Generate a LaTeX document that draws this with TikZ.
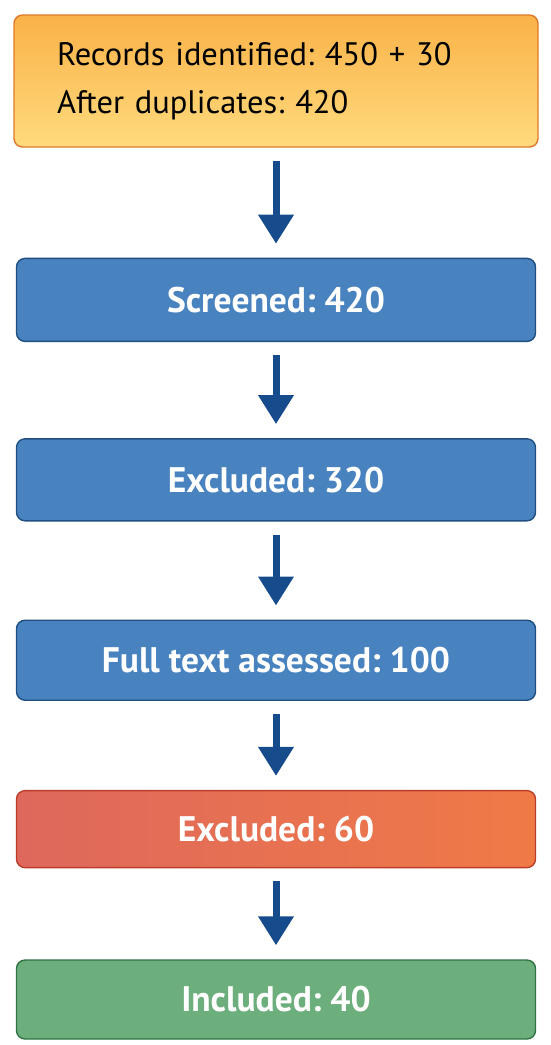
\documentclass[tikz,border=0pt]{standalone}
\usepackage{fontspec}
\setmainfont{PT Sans}
\usepackage{tikz}
\usetikzlibrary{
  arrows.meta,
  positioning
}
\frenchspacing
\definecolor{RecordTop}{RGB}{250,178,72}
\definecolor{RecordBottom}{RGB}{255,218,125}
\definecolor{RecordEdge}{RGB}{222,122,40}
\definecolor{StepBlue}{RGB}{72,131,192}
\definecolor{StepEdge}{RGB}{32,78,128}
\definecolor{DropLeft}{RGB}{222,104,92}
\definecolor{DropRight}{RGB}{240,122,70}
\definecolor{DropEdge}{RGB}{188,62,42}
\definecolor{KeepGreen}{RGB}{108,174,124}
\definecolor{KeepEdge}{RGB}{48,116,70}
\definecolor{FlowBlue}{RGB}{22,76,140}
\tikzset{
  recordbox/.style={draw=RecordEdge,top color=RecordTop,bottom color=RecordBottom,line width=1.4pt,rounded corners=3mm,minimum height=132pt,minimum width=524pt,inner xsep=0pt,align=left,text width=438pt,font=\fontsize{32.5}{48}\selectfont},
  stagebox/.style={draw=StepEdge,fill=StepBlue,line width=1.4pt,rounded corners=3mm,minimum width=519pt,align=center,text=white,font=\fontsize{35.5}{42}\selectfont\bfseries},
  dropbox/.style={stagebox,draw=DropEdge,left color=DropLeft,right color=DropRight},
  keepbox/.style={stagebox,draw=KeepEdge,fill=KeepGreen},
  flow/.style={-{Triangle[length=29pt,width=34pt]},line width=7pt,draw=FlowBlue,shorten <=13pt,shorten >=14pt}
}
\begin{document}
\begin{tikzpicture}
\useasboundingbox (0pt,0pt) rectangle (550pt,-1045pt);
\node[recordbox] (records) at (276pt,-81pt) {Records identified: 450 + 30\\After duplicates: 420};
\node[stagebox, minimum height=83pt, below=110pt of records] (screened) {Screened: 420};
\node[stagebox, minimum height=82pt, below=96pt of screened] (excl1) {Excluded: 320};
\node[stagebox, minimum height=80pt, below=98pt of excl1] (fulltext) {Full text assessed: 100};
\node[dropbox, minimum height=77pt, below=89pt of fulltext] (excl2) {Excluded: 60};
\node[keepbox, minimum height=79pt, below=91pt of excl2] (included) {Included: 40};
\draw[flow] (records) -- (screened);
\draw[flow] (screened) -- (excl1);
\draw[flow] (excl1) -- (fulltext);
\draw[flow] (fulltext) -- (excl2);
\draw[flow] (excl2) -- (included);
\end{tikzpicture}
\end{document}
